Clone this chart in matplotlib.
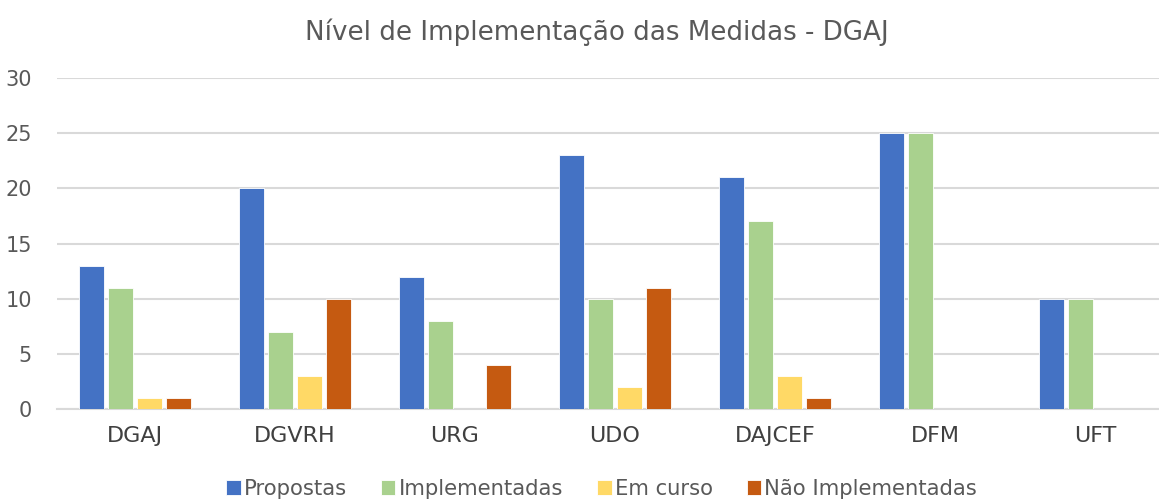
import numpy as np
import matplotlib.pyplot as plt

plt.rcParams['font.family'] = ['DejaVu Sans']

categories = ['DGAJ', 'DGVRH', 'URG', 'UDO', 'DAJCEF', 'DFM', 'UFT']
propostas = [13, 20, 12, 23, 21, 25, 10]
implementadas = [11, 7, 8, 10, 17, 25, 10]
em_curso = [1, 3, 0, 2, 3, 0, 0]
nao_implementadas = [1, 10, 4, 11, 1, 0, 0]

series = [
    ('Propostas', propostas, '#4472C4'),
    ('Implementadas', implementadas, '#A9D18E'),
    ('Em curso', em_curso, '#FFD966'),
    ('Não Implementadas', nao_implementadas, '#C55A11'),
]

fig = plt.figure(figsize=(11.59, 5), dpi=100)
ax = fig.add_axes([57 / 1159, 1 - 409 / 500, (1159 - 57) / 1159, (409 - 78) / 500])

x = np.arange(len(categories))
pitch = 0.181
width = 0.16
for k, (name, vals, col) in enumerate(series):
    ax.bar(x + (k - 1.5) * pitch, vals, width, color=col, label=name,
           edgecolor='white', linewidth=0.6, zorder=3)

ax.set_xlim(-0.4875, 6.4)
ax.set_ylim(0, 30)
ax.set_yticks(range(0, 31, 5))
ax.set_xticks(x)
ax.set_xticklabels(categories, fontsize=16, color='#404040')
ax.tick_params(axis='y', labelsize=15, labelcolor='#595959', length=0, pad=18)
ax.tick_params(axis='x', length=0, pad=12)
ax.grid(axis='y', color='#d9d9d9', linewidth=1.5, zorder=0)
for s in ['top', 'right', 'left']:
    ax.spines[s].set_visible(False)
ax.spines['bottom'].set_color('#d9d9d9')
ax.spines['bottom'].set_linewidth(1.5)

fig.text(597 / 1159, 1 - 32 / 500, 'Nível de Implementação das Medidas - DGAJ',
         ha='center', va='center', fontsize=18.8, color='#595959')

fig.legend(loc='center', bbox_to_anchor=(0.519, 1 - 489 / 500), ncol=4,
           frameon=False, fontsize=15.2, handlelength=0.7, handleheight=0.7,
           handletextpad=0.15, columnspacing=1.6, labelcolor='#595959')

fig.savefig('out.png', dpi=100)
